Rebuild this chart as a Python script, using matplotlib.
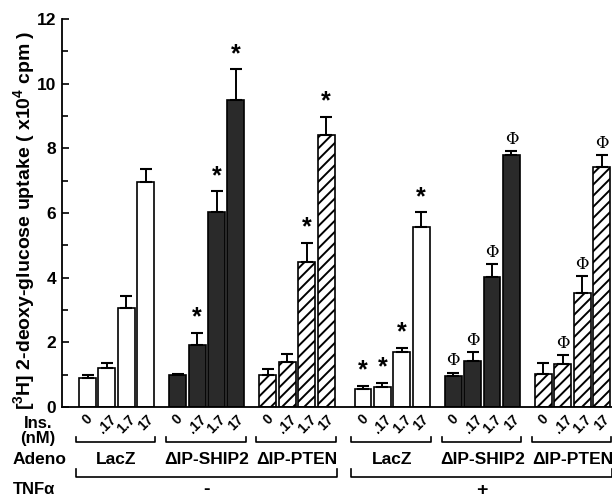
import matplotlib
matplotlib.use("Agg")
import matplotlib.pyplot as plt
import matplotlib.transforms as mtransforms
import numpy as np

plt.rcParams['font.family'] = ['Liberation Sans', 'DejaVu Sans']
plt.rcParams['hatch.linewidth'] = 1.4
plt.rcParams['mathtext.fontset'] = 'custom'
plt.rcParams['mathtext.rm'] = 'Liberation Sans'
plt.rcParams['mathtext.bf'] = 'Liberation Sans:bold'

# ---------------- data ----------------
adeno_groups = ["LacZ", "\u0394IP-SHIP2", "\u0394IP-PTEN"]
tnf_labels = ["-", "+"]
ins_labels = ["0", ".17", "1.7", "17"]

lacz_minus = [0.90, 1.20, 3.07, 6.97]
lacz_minus_err = [0.10, 0.16, 0.35, 0.39]
ship2_minus = [1.00, 1.93, 6.03, 9.49]
ship2_minus_err = [0.03, 0.36, 0.64, 0.96]
pten_minus = [1.00, 1.38, 4.50, 8.41]
pten_minus_err = [0.19, 0.27, 0.58, 0.57]
lacz_plus = [0.57, 0.63, 1.69, 5.57]
lacz_plus_err = [0.09, 0.12, 0.14, 0.45]
ship2_plus = [0.97, 1.42, 4.01, 7.79]
ship2_plus_err = [0.09, 0.28, 0.41, 0.13]
pten_plus = [1.01, 1.33, 3.54, 7.41]
pten_plus_err = [0.34, 0.27, 0.51, 0.39]

lacz_minus_sig = ["", "", "", ""]
ship2_minus_sig = ["", "*", "*", "*"]
pten_minus_sig = ["", "", "*", "*"]
lacz_plus_sig = ["*", "*", "*", "*"]
ship2_plus_sig = ["\u03a6", "\u03a6", "\u03a6", "\u03a6"]
pten_plus_sig = ["", "\u03a6", "\u03a6", "\u03a6"]

series = [
    (lacz_minus, lacz_minus_err, lacz_minus_sig),
    (ship2_minus, ship2_minus_err, ship2_minus_sig),
    (pten_minus, pten_minus_err, pten_minus_sig),
    (lacz_plus, lacz_plus_err, lacz_plus_sig),
    (ship2_plus, ship2_plus_err, ship2_plus_sig),
    (pten_plus, pten_plus_err, pten_plus_sig),
]

# styles per adeno group
styles = [
    dict(color="white", hatch=None),
    dict(color="#2a2a2a", hatch=None),
    dict(color="white", hatch="///"),
]

# ---------------- layout ----------------
W, H = 612, 499
fig = plt.figure(figsize=(W / 100, H / 100), dpi=100)
ax_left, ax_bottom_px, ax_top_px = 62, 407, 19
ax = fig.add_axes([ax_left / W, (H - ax_bottom_px) / H, (W - ax_left) / W,
                   (ax_bottom_px - ax_top_px) / H])

group_pitch = 4.65
block_gap = 0.25
bar_w = 0.87

def bar_x(block, grp, i):
    return block * (3 * group_pitch + block_gap) + grp * group_pitch + i

ty = mtransforms.blended_transform_factory(ax.transData, fig.transFigure)

def fy(px):
    return 1 - px / H

for k, (vals, errs, sigs) in enumerate(series):
    block, grp = divmod(k, 3)
    xs = np.array([bar_x(block, grp, i) for i in range(4)])
    st = styles[grp]
    ax.bar(xs, vals, width=bar_w, color=st["color"], edgecolor="black",
           linewidth=1.2, hatch=st["hatch"], zorder=2)
    ax.errorbar(xs, vals, yerr=[np.zeros(4), errs], fmt="none", ecolor="black",
                elinewidth=1.4, capsize=4.5, capthick=1.5, zorder=3)
    for x, v, e, s in zip(xs, vals, errs, sigs):
        if s == "*":
            ax.text(x, v + e + 0.1, s, ha="center", va="bottom", fontsize=18,
                    fontweight="bold")
        elif s:
            ax.text(x, v + e + 0.1, s, ha="center", va="bottom", fontsize=12,
                    family="DejaVu Serif")
    # rotated insulin labels
    for x, lab in zip(xs, ins_labels):
        ax.text(x, fy(412), lab, rotation=45, ha="center", va="top",
                fontsize=10, fontweight="bold", transform=ty, clip_on=False)
    # small bracket
    x0, x1 = xs[0] - 0.6, xs[-1] + 0.5
    ax.plot([x0, x0, x1, x1], [fy(437), fy(441.5), fy(441.5), fy(437)],
            color="black", lw=1.2, transform=ty, clip_on=False)
    ax.text(xs.mean(), fy(459), adeno_groups[grp], ha="center", va="center",
            fontsize=12.5, fontweight="bold", transform=ty, clip_on=False)

# big brackets and TNF labels
for block in range(2):
    x0 = bar_x(block, 0, 0) - 0.6
    x1 = bar_x(block, 2, 3) + 0.55
    ax.plot([x0, x0, x1, x1], [fy(469), fy(476.5), fy(476.5), fy(469)],
            color="black", lw=1.2, transform=ty, clip_on=False)
    xc = (bar_x(block, 0, 0) + bar_x(block, 2, 3)) / 2
    ax.text(xc, fy(490), tnf_labels[block], ha="center", va="center",
            fontsize=14, fontweight="bold", transform=ty, clip_on=False)

fig.text(38 / W, fy(423), "Ins.", ha="center", va="center", fontsize=12,
         fontweight="bold")
fig.text(38 / W, fy(438), "(nM)", ha="center", va="center", fontsize=12,
         fontweight="bold")
fig.text(13 / W, fy(459), "Adeno", ha="left", va="center", fontsize=12.5,
         fontweight="bold")
fig.text(13 / W, fy(490), "TNF\u03b1", ha="left", va="center", fontsize=12,
         fontweight="bold")

# axes styling
first = bar_x(0, 0, 0)
px_per_unit = 19.4
ax.set_xlim(first - (87.5 - ax_left) / px_per_unit,
            first + (W - 87.5) / px_per_unit)
ax.set_ylim(0, 12)
ax.set_yticks(np.arange(0, 13, 2))
ax.set_yticks(np.arange(1, 12, 2), minor=True)
ax.tick_params(axis="y", which="major", direction="in", length=5, width=1.2,
               labelsize=12.5, pad=4)
ax.tick_params(axis="y", which="minor", direction="in", length=4, width=1.2)
for lab in ax.get_yticklabels():
    lab.set_fontweight("bold")
ax.set_xticks([])
ax.spines["top"].set_visible(False)
ax.spines["right"].set_visible(False)
ax.spines["left"].set_linewidth(1.3)
ax.spines["bottom"].set_linewidth(1.3)

fig.text(24 / W, fy(220),
         "[$\\mathbf{^3}$H] 2-deoxy-glucose uptake ( x10$\\mathbf{^4}$ cpm )",
         rotation=90, ha="center", va="center", fontsize=14,
         fontweight="bold")

fig.savefig("out.png", dpi=100)
